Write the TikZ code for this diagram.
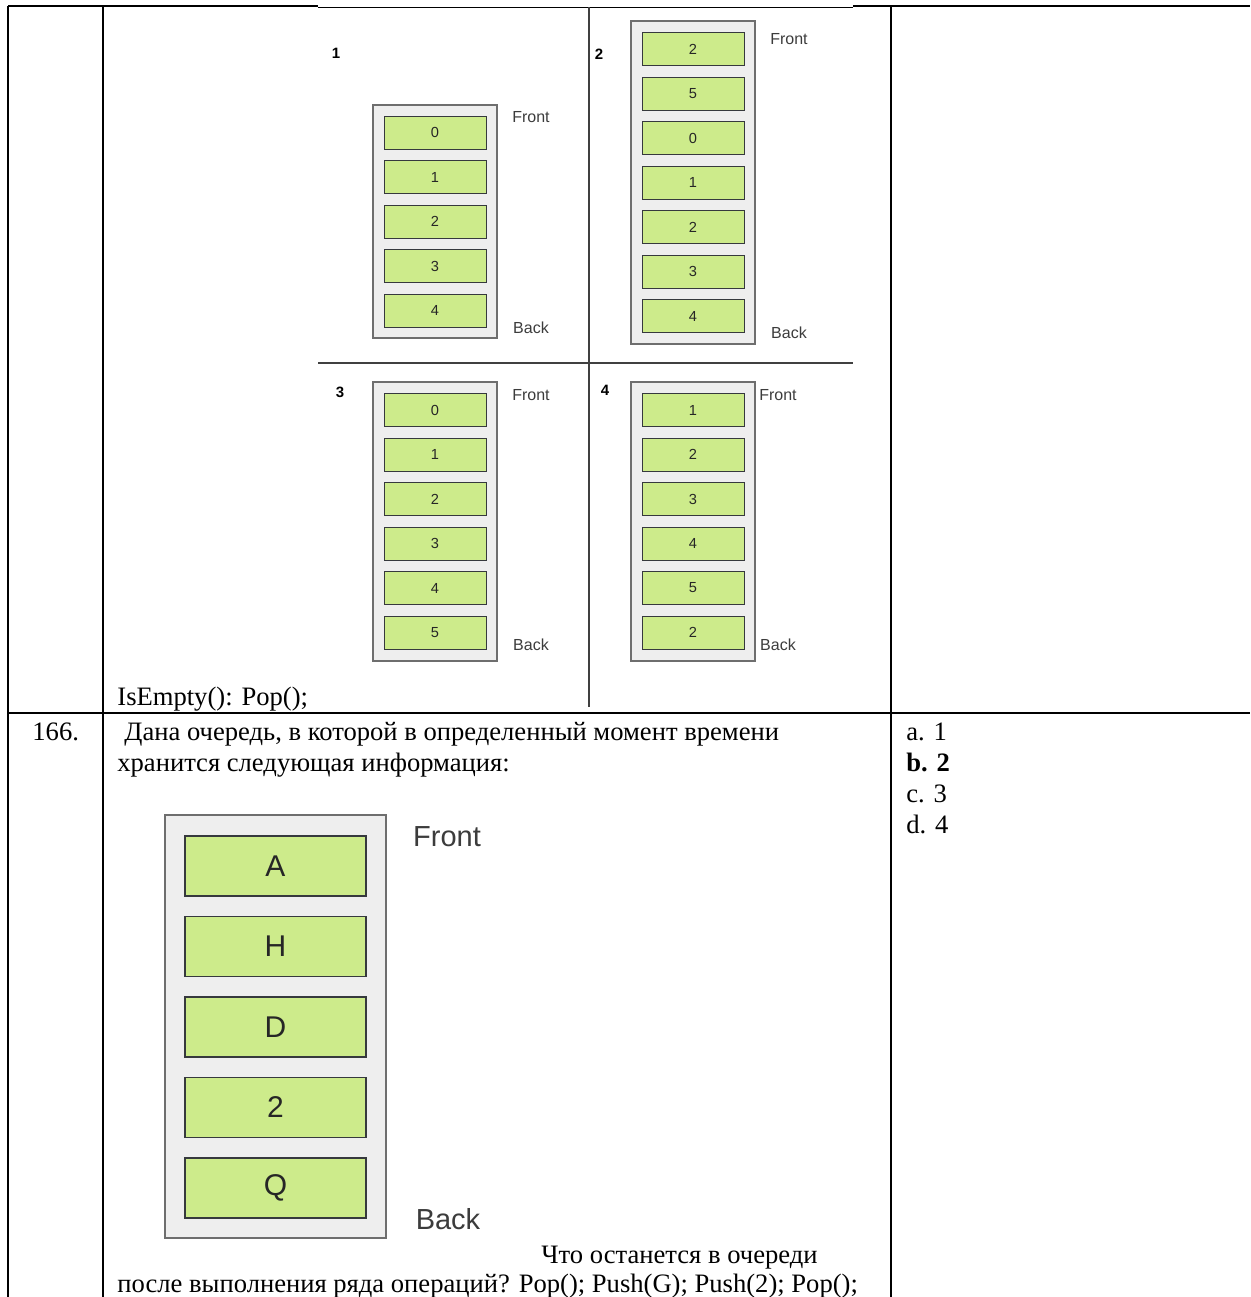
\documentclass[tikz,border=0pt]{standalone}
\usepackage{fontspec}
\setmainfont{Liberation Serif}
\newfontfamily\diagfont{Liberation Sans}
\usetikzlibrary{positioning}
\definecolor{cellfill}{HTML}{CDEB8B}
\definecolor{celldraw}{HTML}{36393D}
\definecolor{boxfill}{HTML}{EEEEEE}
\definecolor{boxdraw}{HTML}{6E6E6E}
\definecolor{labtext}{HTML}{3C3C3C}

\begin{document}
\begin{tikzpicture}[x=0.5pt,y=-0.5pt,
  tbl/.style={line width=1.1pt,black},
  sep/.style={line width=0.55pt,black!75},
  qbox/.style={rectangle,draw=boxdraw,fill=boxfill,line width=0.6pt,inner sep=0pt,minimum width=62pt},
  qcell/.style={rectangle,draw=celldraw,fill=cellfill,line width=0.5pt,inner sep=0pt,
    minimum width=51pt,minimum height=16.5pt,text=black!85,font=\diagfont\fontsize{7.3}{8}\selectfont},
  qside/.style={text=labtext,inner sep=0pt,font=\diagfont\fontsize{8}{9}\selectfont},
  qnum/.style={inner sep=0pt,font=\diagfont\bfseries\fontsize{7.5}{8}\selectfont},
  bigbox/.style={qbox,line width=0.9pt,minimum width=110.5pt,minimum height=211.5pt},
  bigcell/.style={qcell,line width=0.9pt,minimum width=90.5pt,minimum height=30pt,font=\diagfont\fontsize{15}{16}\selectfont},
  bigside/.style={qside,font=\diagfont\fontsize{14.5}{16}\selectfont},
  txt/.style={anchor=base west,inner sep=0pt,font=\fontsize{13.3}{15}\selectfont}]
  \useasboundingbox (0,0) rectangle (1250,1297);

  % table grid
  \draw[tbl] (8,6) -- (318,6);
  \draw[tbl] (853,6) -- (1250,6);
  \draw[line width=0.5pt] (318,7) -- (853,7);
  \draw[tbl] (8,6) -- (8,1297);
  \draw[tbl] (103,6) -- (103,1297);
  \draw[tbl] (891,6) -- (891,1297);
  \draw[tbl] (8,713) -- (1250,713);

  % four small queues
  \draw[sep] (318,363) -- (853,363);
  \draw[sep] (589,7) -- (589,707);

  \node[qnum] (n1) at (336,53) {1};
  \node[qbox,minimum height=116.5pt] (box1) at (435,221.5) {};
  \foreach \v [count=\i] in {0,1,2,3,4}
    \node[qcell] (a\i) at (435,{132.5+44.5*(\i-1)}) {\v};
  \node[qside] (f1) at (531,117) {Front};
  \node[qside] (b1) at (531,328) {Back};

  \node[qnum] (n2) at (599,54) {2};
  \node[qbox,minimum height=161.5pt] (box2) at (693,182.5) {};
  \foreach \v [count=\i] in {2,5,0,1,2,3,4}
    \node[qcell] (b\i) at (693,{49+44.5*(\i-1)}) {\v};
  \node[qside] (f2) at (789,39) {Front};
  \node[qside] (b2) at (789,333) {Back};

  \node[qnum] (n3) at (340,392) {3};
  \node[qbox,minimum height=139.5pt] (box3) at (435,521.5) {};
  \foreach \v [count=\i] in {0,1,2,3,4,5}
    \node[qcell] (c\i) at (435,{410+44.5*(\i-1)}) {\v};
  \node[qside] (f3) at (531,395) {Front};
  \node[qside] (b3) at (531,645) {Back};

  \node[qnum] (n4) at (605,390) {4};
  \node[qbox,minimum height=139.5pt] (box4) at (693,521.5) {};
  \foreach \v [count=\i] in {1,2,3,4,5,2}
    \node[qcell] (d\i) at (693,{410+44.5*(\i-1)}) {\v};
  \node[qside] (f4) at (778,395) {Front};
  \node[qside] (b4) at (778,645) {Back};

  \node[txt] (ops) at (117,705) {IsEmpty(): Pop();};

  % question 166
  \node[txt] (num) at (32,740) {166.};
  \node[txt] (q1) at (124,740) {Дана очередь, в которой в определенный момент времени};
  \node[txt] (q2) at (117,771) {хранится следующая информация:};
  \node[txt] (ansa) at (906,740) {a. 1};
  \node[txt,font=\fontsize{13.3}{15}\selectfont\bfseries] (ansb) at (906,771) {b. 2};
  \node[txt] (ansc) at (906,802) {c. 3};
  \node[txt] (ansd) at (906,833) {d. 4};

  \node[bigbox] (big) at (275.5,1026.5) {};
  \foreach \v [count=\i] in {A,H,D,2,Q}
    \node[bigcell] (e\i) at (275.5,{866+80.5*(\i-1)}) {\v};
  \node[bigside] (fb) at (447,837) {Front};
  \node[bigside] (bb) at (448,1219) {Back};

  \node[txt] (q3) at (541,1263) {Что останется в очереди};
  \node[txt] (q4) at (117,1292) {после выполнения ряда операций? Pop(); Push(G); Push(2); Pop();};
\end{tikzpicture}
\end{document}
